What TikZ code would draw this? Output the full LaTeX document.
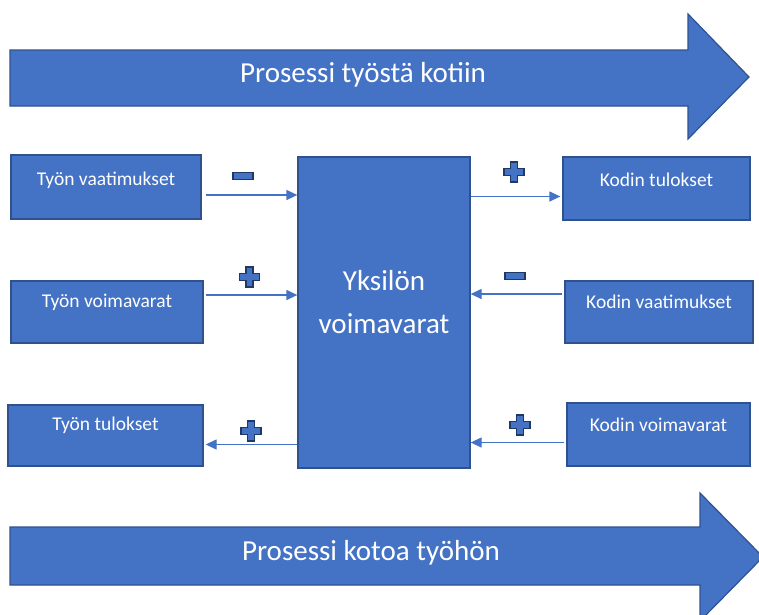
\documentclass[tikz,border=0pt]{standalone}
\usepackage{fontspec}
\setmainfont{Carlito}
\usetikzlibrary{arrows.meta,calc}
\definecolor{acc}{HTML}{4472C4}
\definecolor{accd}{HTML}{2F528F}
\definecolor{signd}{HTML}{1F3864}
\begin{document}
\begin{tikzpicture}[x=1pt,y=-1pt,
  box/.style={draw=accd, fill=acc, line width=1.3pt, inner sep=0pt},
  boxtxt/.style={text=white, font=\fontsize{19.5}{22}\selectfont, inner sep=0pt},
  bigtxt/.style={text=white, font=\fontsize{29}{43}\selectfont, inner sep=0pt, align=center},
  bigarrow/.style={draw=accd, fill=acc, line width=1.2pt, line join=miter},
  conn/.style={draw=acc, line width=1.3pt, -{Triangle[length=11pt,width=10pt]}},
  sign/.style={draw=signd, fill=acc, line width=1.1pt, line join=miter}
]
\useasboundingbox (0,0) rectangle (759,614);
\clip (0,0) rectangle (759,614);

% big process arrows
\draw[bigarrow] (10,50) -- (688,50) -- (688,14) -- (749,77) -- (688,139) -- (688,106) -- (10,106) -- cycle;
\node[bigtxt] (ptk) at (363,75) {Prosessi työstä kotiin};
\draw[bigarrow] (10,527) -- (700,527) -- (700,493) -- (763,557) -- (700,621) -- (700,585) -- (10,585) -- cycle;
\node[bigtxt] (pkt) at (371,553) {Prosessi kotoa työhön};

% boxes
\node[box, minimum width=190pt, minimum height=64pt] (tv) at (106,187) {};
\node[boxtxt] (tvt) at (106,180) {Työn vaatimukset};
\node[box, minimum width=192pt, minimum height=62pt] (tvv) at (107,312) {};
\node[boxtxt] (tvvt) at (107,302) {Työn voimavarat};
\node[box, minimum width=195pt, minimum height=61pt] (tt) at (105.5,435.5) {};
\node[boxtxt] (ttt) at (105.5,425) {Työn tulokset};

\node[box, minimum width=172pt, minimum height=311pt] (c) at (384,312.5) {};
\node[bigtxt] (ct) at (384,302) {Yksilön\\voimavarat};

\node[box, minimum width=187pt, minimum height=63pt] (kt) at (656.5,188.5) {};
\node[boxtxt] (ktt) at (656.5,180) {Kodin tulokset};
\node[box, minimum width=188pt, minimum height=62pt] (kv) at (659,312) {};
\node[boxtxt] (kvt) at (659,302) {Kodin vaatimukset};
\node[box, minimum width=183pt, minimum height=63pt] (kvv) at (658.5,434.5) {};
\node[boxtxt] (kvvt) at (658.5,425) {Kodin voimavarat};

% connector end points
\coordinate (a1) at ($(tv.east)+(4,8)$);   \coordinate (b1) at (c.west |- a1);
\coordinate (a2) at ($(tvv.east)+(2,-17)$); \coordinate (b2) at (c.west |- a2);
\coordinate (a3) at ($(tt.east)+(2,9)$);   \coordinate (b3) at (c.west |- a3);
\coordinate (a4) at ($(kt.west)+(-2,8)$);  \coordinate (b4) at (c.east |- a4);
\coordinate (a5) at ($(kv.west)+(-2,-18)$); \coordinate (b5) at (c.east |- a5);
\coordinate (a6) at ($(kvv.west)+(-2,8)$); \coordinate (b6) at (c.east |- a6);

% connectors
\draw[conn] (a1) -- (b1);
\draw[conn] (a2) -- (b2);
\draw[conn] (b3) -- (a3);
\draw[conn] (b4) -- (a4);
\draw[conn] (a5) -- (b5);
\draw[conn] (a6) -- (b6);

% signs
\newcommand{\plussign}[2]{%
  \draw[sign] ($(#1,#2)+(-3.5,-10)$) -- ++(7,0) -- ++(0,6.5) -- ++(6.5,0) -- ++(0,7) -- ++(-6.5,0) -- ++(0,6.5) -- ++(-7,0) -- ++(0,-6.5) -- ++(-6.5,0) -- ++(0,-7) -- ++(6.5,0) -- cycle;}
\newcommand{\minussign}[2]{%
  \draw[sign] ($(#1,#2)+(-10,-3.5)$) rectangle ++(20,7);}
\minussign{243}{176}
\plussign{249.5}{277}
\plussign{251}{431}
\plussign{514}{172}
\minussign{515}{276}
\plussign{520}{425}
\end{tikzpicture}
\end{document}
